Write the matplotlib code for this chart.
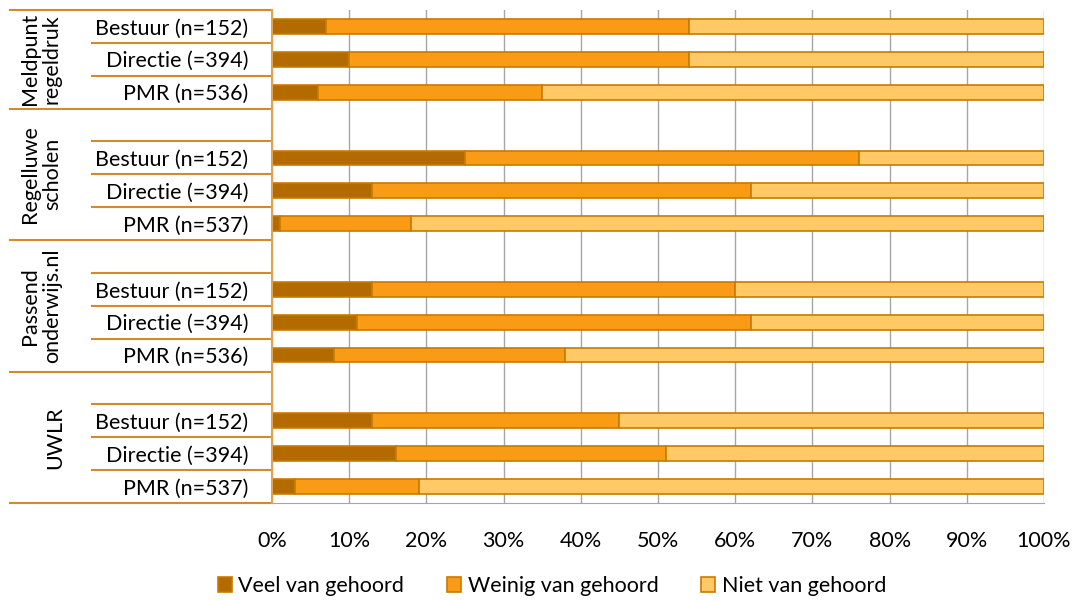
import matplotlib
matplotlib.use("Agg")
import matplotlib.pyplot as plt
from matplotlib.patches import Patch
import numpy as np

plt.rcParams['font.family'] = ['Lato', 'DejaVu Sans']

# rows from top to bottom; '' = empty spacer row at the start of a group
row_labels = ['Bestuur (n=152)', 'Directie (=394)', 'PMR (n=536)',
              '', 'Bestuur (n=152)', 'Directie (=394)', 'PMR (n=537)',
              '', 'Bestuur (n=152)', 'Directie (=394)', 'PMR (n=536)',
              '', 'Bestuur (n=152)', 'Directie (=394)', 'PMR (n=537)']
groups = ['Meldpunt\nregeldruk', 'Regelluwe\nscholen', 'Passend\nonderwijs.nl', 'UWLR']
group_rows = [(0, 2), (3, 6), (7, 10), (11, 14)]

veel   = [7, 10, 6,  0, 25, 13, 1,  0, 13, 11, 8,  0, 13, 16, 3]
weinig = [47, 44, 29, 0, 51, 49, 17, 0, 47, 51, 30, 0, 32, 35, 16]
niet   = [46, 46, 65, 0, 24, 38, 82, 0, 40, 38, 62, 0, 55, 49, 81]
series_names = ['Veel van gehoord', 'Weinig van gehoord', 'Niet van gehoord']
colors = ['#B36B00', '#F99B15', '#FFC965']
edge = '#C97A00'
line_col = '#D38A2C'
fs = 15.5

fig = plt.figure(figsize=(10.8, 6.01), dpi=100)
ax = fig.add_axes([272 / 1080, 1 - 503 / 601, 772 / 1080, 493 / 601])

y = np.arange(len(row_labels))
left = np.zeros(len(row_labels))
for vals, col, name in zip([veel, weinig, niet], colors, series_names):
    vals = np.array(vals, dtype=float)
    mask = vals > 0
    ax.barh(y[mask], vals[mask], left=left[mask], height=0.45, color=col,
            edgecolor=edge, linewidth=1.2, label=name, zorder=3)
    left += vals

ax.set_xlim(0, 100)
ax.set_ylim(14.5, -0.5)
ax.set_xticks(np.arange(0, 101, 10))
ax.set_xticklabels([f'{v}%' for v in range(0, 101, 10)], fontsize=fs)
ax.tick_params(axis='x', length=0, pad=20)
ax.set_yticks(y)
ax.set_yticklabels(row_labels, fontsize=fs)
ax.tick_params(axis='y', length=0, pad=17)
ax.grid(axis='x', color='#A6A6A6', linewidth=1, zorder=0)

for s in ['top', 'right']:
    ax.spines[s].set_visible(False)
ax.spines['bottom'].set_color('#A6A6A6')
ax.spines['left'].set_color('#E0A450')
ax.spines['left'].set_linewidth(1.5)
ax.spines['left'].set_zorder(4)

# multi-level category axis lines
tr = ax.get_yaxis_transform()
x_outer = (10 - 272) / 772
x_inner = (92 - 272) / 772
for b in [-0.5, 2.5, 6.5, 10.5, 14.5]:
    ax.plot([x_outer, 0], [b, b], color=line_col, lw=1.5, transform=tr, clip_on=False)
for i in range(len(row_labels) - 1):
    b = i + 0.5
    if b not in (2.5, 6.5, 10.5):
        ax.plot([x_inner, 0], [b, b], color=line_col, lw=1.5, transform=tr, clip_on=False)

for name, (r0, r1) in zip(groups, group_rows):
    xc = (55 - 272) / 772 if '\n' not in name else (41 - 272) / 772
    ax.text(xc, (r0 + r1) / 2, name, rotation=90, transform=tr, ha='center', va='center',
            fontsize=fs, linespacing=1.1, multialignment='center')

handles = [Patch(facecolor=c, edgecolor=edge, linewidth=1.2) for c in colors]
fig.legend(handles, series_names, loc='center', bbox_to_anchor=(552 / 1080, 1 - 586 / 601),
           ncol=3, frameon=False, fontsize=fs, handlelength=0.65, handleheight=0.65,
           handletextpad=0.3, columnspacing=2.0)

fig.savefig('out.png', dpi=100)
